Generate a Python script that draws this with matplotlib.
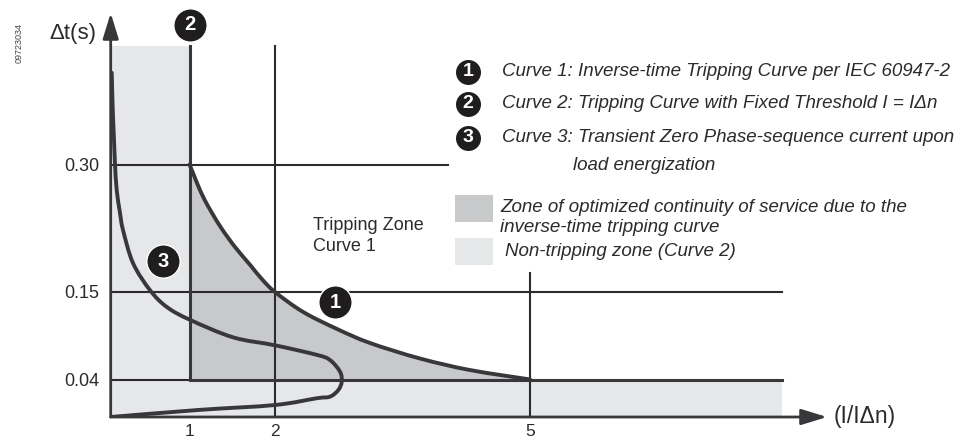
import numpy as np
import matplotlib
matplotlib.use("Agg")
import matplotlib.pyplot as plt
from matplotlib.path import Path
from matplotlib.patches import PathPatch, Rectangle

# ---------------- data ----------------
x_ticks = [1, 2, 5]
x_tick_labels = ["1", "2", "5"]
y_ticks = [0.04, 0.15, 0.30]
y_tick_labels = ["0.04", "0.15", "0.30"]

# Curve 1: inverse-time tripping curve (I/IΔn, Δt)
curve1_I = [1.0, 1.053, 1.099, 1.170, 1.263, 1.380, 1.532, 1.708, 1.848, 2.0,
            2.329, 2.729, 3.116, 3.704, 4.291, 5.0]
curve1_t = [0.30, 0.287, 0.2755, 0.2598, 0.243, 0.224, 0.203, 0.182, 0.165, 0.15,
            0.125, 0.1035, 0.0859, 0.0664, 0.0519, 0.04]

# Curve 2: fixed threshold I = IΔn, Δt = 0.04
curve2_I = [1.0, 1.0, 8.0]
curve2_t = [0.441, 0.04, 0.04]

# Curve 3: transient zero phase-sequence current upon load energization
curve3_I = [0.013, 0.025, 0.042, 0.055, 0.076, 0.118, 0.156, 0.283, 0.50, 0.714, 1.006, 1.51,
            2.0, 2.49, 2.646, 2.764, 2.784, 2.744, 2.646, 2.49, 2.0, 1.105, 0.0]
curve3_t = [0.409, 0.368, 0.329, 0.30, 0.270, 0.243, 0.223, 0.184, 0.152, 0.131, 0.115, 0.093,
            0.083, 0.071, 0.0645, 0.0498, 0.0377, 0.0288, 0.0217, 0.020, 0.0128, 0.0075, 0.0]

zone_top = 0.441      # top of non-tripping zone
zone_right = 8.0      # right end of the bottom strip

legend_curves = ["Curve 1: Inverse-time Tripping Curve per IEC 60947-2",
                 "Curve 2: Tripping Curve with Fixed Threshold I = IΔn",
                 "Curve 3: Transient Zero Phase-sequence current upon"]
legend_curve3_cont = "load energization"
legend_zones = ["Zone of optimized continuity of service due to the\ninverse-time tripping curve",
                "Non-tripping zone (Curve 2)"]

# ---------------- schematic (non-uniform) scales ----------------
W, H = 965, 443
xv = [-1, 0, 1, 2, 5, 8, 8.53, 10]
xp = [31.9, 110.7, 189.5, 275, 530.3, 782.3, 827, 951]
yv = [-0.04, 0, 0.04, 0.15, 0.30, 0.48, 0.6]
yp = [H - 454.5, H - 417, H - 379.5, H - 292, H - 164.5, H - 13, H + 89]

def fx(v): return np.interp(v, xv, xp)
def ix(p): return np.interp(p, xp, xv)
def fy(v): return np.interp(v, yv, yp)
def iy(p): return np.interp(p, yp, yv)

plt.rcParams['font.family'] = ['Liberation Sans', 'DejaVu Sans']
DARK = '#2b2a2c'
CURVE = '#38383b'
LIGHT = '#e6e7e8'
MID = '#c8c9cb'

fig = plt.figure(figsize=(W / 100, H / 100), dpi=100)
ax = fig.add_axes([110.7 / W, (H - 417) / H, (827 - 110.7) / W, (417 - 13) / H])
ax.set_xscale('function', functions=(fx, ix))
ax.set_yscale('function', functions=(fy, iy))
ax.set_xlim(0, 8.53)
ax.set_ylim(0, 0.48)
for s in ax.spines.values():
    s.set_visible(False)
ax.patch.set_alpha(0)
scaled = ax.transLimits + ax.transAxes   # affine part after the scale


def P(px, py):
    return (px / W, 1 - py / H)


def smooth_verts(xs, ys):
    """Catmull-Rom through the data points, drawn as cubic Bezier in scaled space."""
    pts = np.column_stack([fx(np.asarray(xs, float)), fy(np.asarray(ys, float))])
    n = len(pts)
    verts = [pts[0]]
    codes = [Path.MOVETO]
    for i in range(n - 1):
        p0 = pts[max(i - 1, 0)]
        p1 = pts[i]
        p2 = pts[i + 1]
        p3 = pts[min(i + 2, n - 1)]
        verts += [p1 + (p2 - p0) / 6.0, p2 - (p3 - p1) / 6.0, p2]
        codes += [Path.CURVE4] * 3
    return verts, codes


# zones
ax.fill_between([0, 1], 0, zone_top, color=LIGHT, lw=0, zorder=1)
ax.fill_between([0, zone_right], 0, 0.04, color=LIGHT, lw=0, zorder=1)
v1, c1 = smooth_verts(curve1_I, curve1_t)
fv = v1 + [(fx(1.0), fy(0.04)), v1[0]]
fc = c1 + [Path.LINETO, Path.CLOSEPOLY]
ax.add_patch(PathPatch(Path(fv, fc), transform=scaled, facecolor=MID, lw=0, zorder=1))

# grid lines
glw = 1.5
ax.plot([2, 2], [0, zone_top], color=DARK, lw=glw, zorder=2)
ax.plot([5, 5], [0, 0.172], color=DARK, lw=glw, zorder=2)
ax.plot([0, 4.03], [0.30, 0.30], color=DARK, lw=glw, zorder=2)
ax.plot([0, zone_right], [0.15, 0.15], color=DARK, lw=glw, zorder=2)
ax.plot([0, 1], [0.04, 0.04], color=DARK, lw=glw, zorder=2)

# curves
ax.plot(curve2_I, curve2_t, color=CURVE, lw=2.2, zorder=3, solid_joinstyle='miter')
ax.add_patch(PathPatch(Path(v1, c1), transform=scaled, fill=False, edgecolor=CURVE, lw=2.8,
                       capstyle='round', joinstyle='round', zorder=3))
v3, c3 = smooth_verts(curve3_I, curve3_t)
ax.add_patch(PathPatch(Path(v3, c3), transform=scaled, fill=False, edgecolor=CURVE, lw=2.8,
                       capstyle='round', joinstyle='round', zorder=3))

# axes with arrows
arrow = dict(arrowstyle='-|>,head_length=1.3,head_width=0.4', color=CURVE, lw=2.0,
             shrinkA=0, shrinkB=0, mutation_scale=12)
ax.annotate('', xy=(8.53, 0), xytext=(0, 0), arrowprops=arrow, zorder=4, annotation_clip=False)
ax.annotate('', xy=(0, 0.48), xytext=(0, 0), arrowprops=arrow, zorder=4, annotation_clip=False)

# ticks
ax.set_xticks(x_ticks, x_tick_labels)
ax.set_yticks(y_ticks, y_tick_labels)
ax.tick_params(axis='both', length=0, labelsize=13, colors=DARK)
ax.tick_params(axis='x', labelsize=12.5, pad=5)
ax.tick_params(axis='y', pad=8)
ax.minorticks_off()

# axis titles
fig.text(*P(49, 33), "Δt(s)", fontsize=16, color=DARK, va='center', ha='left')
fig.text(*P(834, 417), "(I/IΔn)", fontsize=16.5, color=DARK, va='center', ha='left')
fig.text(*P(19, 43), "09723034", fontsize=6.5, color='#444444', rotation=90, va='center', ha='center')

# zone label
fig.text(*P(313, 236), "Tripping Zone\nCurve 1", fontsize=13, color=DARK, va='center', ha='left',
         linespacing=1.3)


# numbered badges
def badge(x, y, n, ms, fs, trans):
    ax.plot([x], [y], 'o', ms=ms, color='#1f1d1e', mec='white', mew=1.0, transform=trans,
            clip_on=False, zorder=6)
    ax.text(x, y, n, transform=trans, ha='center', va='center', color='white', fontsize=fs,
            fontweight='bold', zorder=7)


badge(1.0, 0.466, "2", 24, 14.5, ax.transData)
badge(0.66, 0.186, "3", 24, 14.5, ax.transData)
badge(2.71, 0.137, "1", 24, 14.5, ax.transData)

# legend
for k, (py, txt) in enumerate(zip([72, 104, 138], legend_curves)):
    x, y = P(468, py)
    badge(x, y, str(k + 1), 19, 14, fig.transFigure)
    fig.text(*P(502, py), txt, fontsize=13.5, style='italic', color=DARK, va='center', ha='left')
fig.text(*P(573, 166), legend_curve3_cont, fontsize=13.5, style='italic', color=DARK,
         va='center', ha='left')

fig.patches.append(Rectangle(P(455, 222), 38 / W, 27 / H, transform=fig.transFigure, color=MID, lw=0))
fig.patches.append(Rectangle(P(455, 265), 38 / W, 27 / H, transform=fig.transFigure, color=LIGHT, lw=0))
fig.text(*P(500, 217.5), legend_zones[0], fontsize=13.5, style='italic', color=DARK, va='center',
         ha='left', linespacing=1.25)
fig.text(*P(505, 252), legend_zones[1], fontsize=13.5, style='italic', color=DARK, va='center', ha='left')

fig.savefig("out.png", dpi=100, facecolor='white')
